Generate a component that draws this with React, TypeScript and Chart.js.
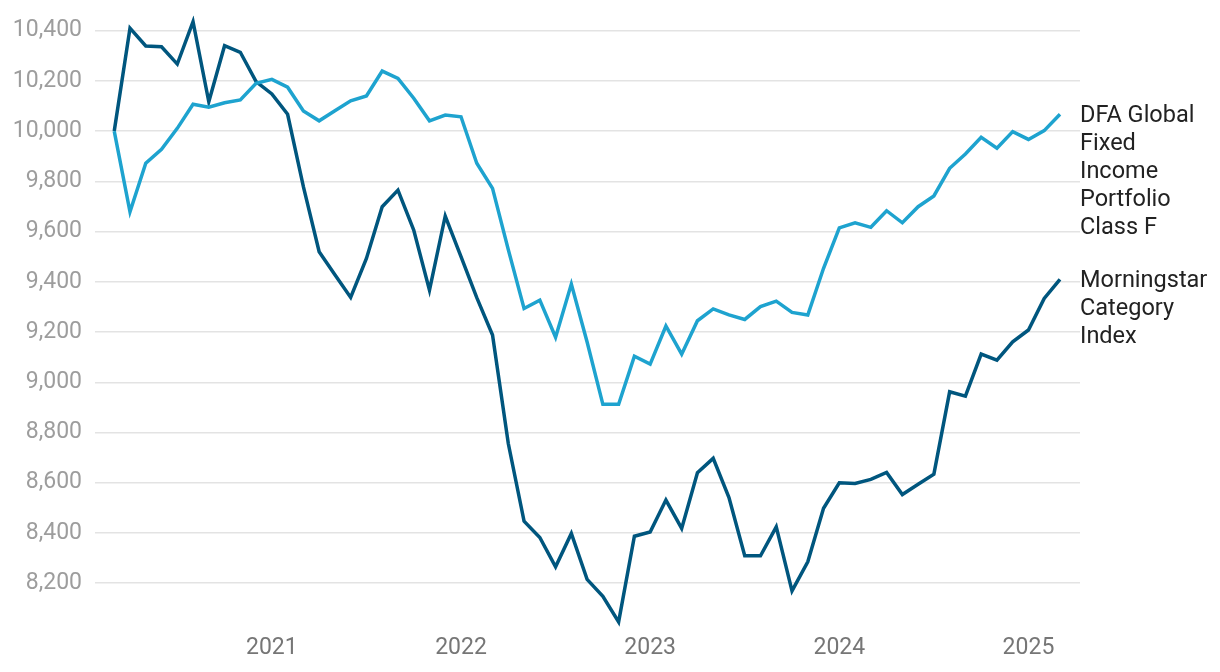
import React, { useEffect, useRef } from 'react';
import { Chart, registerables } from 'chart.js';

Chart.register(...registerables);

const months = [
  '2020-03', '2020-04', '2020-05', '2020-06', '2020-07', '2020-08', '2020-09', '2020-10', '2020-11', '2020-12',
  '2021-01', '2021-02', '2021-03', '2021-04', '2021-05', '2021-06', '2021-07', '2021-08', '2021-09', '2021-10', '2021-11', '2021-12',
  '2022-01', '2022-02', '2022-03', '2022-04', '2022-05', '2022-06', '2022-07', '2022-08', '2022-09', '2022-10', '2022-11', '2022-12',
  '2023-01', '2023-02', '2023-03', '2023-04', '2023-05', '2023-06', '2023-07', '2023-08', '2023-09', '2023-10', '2023-11', '2023-12',
  '2024-01', '2024-02', '2024-03', '2024-04', '2024-05', '2024-06', '2024-07', '2024-08', '2024-09', '2024-10', '2024-11', '2024-12',
  '2025-01', '2025-02', '2025-03',
];

const fundValues = [
  10000, 9679, 9872, 9928, 10011, 10107, 10095, 10113, 10124, 10190,
  10206, 10175, 10080, 10041, 10081, 10121, 10140, 10239, 10210, 10131, 10041, 10064,
  10057, 9872, 9772, 9528, 9294, 9327, 9179, 9391, 9160, 8912, 8912, 9104,
  9072, 9224, 9112, 9245, 9292, 9268, 9250, 9301, 9323, 9278, 9268, 9454,
  9615, 9635, 9617, 9683, 9635, 9699, 9742, 9852, 9909, 9975, 9932, 9998,
  9967, 10002, 10067,
];

const indexValues = [
  10000, 10410, 10339, 10336, 10267, 10436, 10117, 10340, 10314, 10197,
  10148, 10067, 9779, 9520, 9428, 9338, 9493, 9699, 9765, 9606, 9367, 9662,
  9500, 9337, 9188, 8756, 8447, 8382, 8265, 8398, 8215, 8148, 8046, 8387,
  8404, 8531, 8418, 8640, 8697, 8541, 8309, 8309, 8424, 8169, 8285, 8498,
  8600, 8597, 8613, 8641, 8553, 8594, 8634, 8962, 8945, 9112, 9088, 9161,
  9208, 9334, 9410,
];

const yTickValues = [8200, 8400, 8600, 8800, 9000, 9200, 9400, 9600, 9800, 10000, 10200, 10400];

const fundLabelLines = ['DFA Global', 'Fixed', 'Income', 'Portfolio', 'Class F'];
const indexLabelLines = ['Morningstar', 'Category', 'Index'];

const FONT = 'Roboto, "Noto Sans", sans-serif';

const endLabels = {
  id: 'endLabels',
  afterDatasetsDraw(chart: any) {
    const ctx = chart.ctx;
    const area = chart.chartArea;
    ctx.save();
    ctx.font = `23.5px ${FONT}`;
    ctx.fillStyle = '#222222';
    ctx.textAlign = 'left';
    ctx.textBaseline = 'middle';
    chart.data.datasets.forEach((ds: any, di: number) => {
      const meta = chart.getDatasetMeta(di);
      const last = meta.data[meta.data.length - 1];
      if (!last) return;
      const lines: string[] = ds.endLines || [];
      lines.forEach((line, li) => {
        ctx.fillText(line, area.right, last.y + 2 + li * 28);
      });
    });
    ctx.restore();
  },
};

export default function App() {
  const ref = useRef<HTMLCanvasElement>(null);

  useEffect(() => {
    if (!ref.current) return;
    const chart = new Chart(ref.current, {
      type: 'line',
      data: {
        datasets: [
          {
            label: 'DFA Global Fixed Income Portfolio Class F',
            data: fundValues.map((v, i) => ({ x: i, y: v })),
            borderColor: '#1ea3cf',
            borderWidth: 3.5,
            pointRadius: 0,
            tension: 0,
            endLines: fundLabelLines,
          } as any,
          {
            label: 'Morningstar Category Index',
            data: indexValues.map((v, i) => ({ x: i, y: v })),
            borderColor: '#00567e',
            borderWidth: 3.5,
            pointRadius: 0,
            tension: 0,
            endLines: indexLabelLines,
          } as any,
        ],
      },
      options: {
        responsive: false,
        animation: false,
        layout: { padding: { top: 15.6, right: 140, left: 0, bottom: 0 } },
        plugins: {
          legend: { display: false },
          tooltip: { enabled: false },
        },
        scales: {
          x: {
            type: 'linear',
            min: -1.22,
            max: 61.27,
            grid: { display: false, drawTicks: false },
            border: { display: false },
            afterBuildTicks: (scale: any) => {
              scale.ticks = months
                .map((m, i) => ({ value: i, m }))
                .filter((t) => t.m.endsWith('-01'))
                .map((t) => ({ value: t.value }));
            },
            afterFit: (scale: any) => {
              scale.height = 38.6;
              scale.paddingLeft = 0;
              scale.paddingRight = 0;
            },
            ticks: {
              autoSkip: false,
              maxRotation: 0,
              padding: 1,
              color: '#767676',
              font: { family: FONT, size: 23 },
              callback: (v: any) => months[v as number]?.slice(0, 4) ?? '',
            },
          },
          y: {
            type: 'linear',
            min: 8000,
            max: 10460,
            grid: { color: '#e3e3e3', lineWidth: 1.5, drawTicks: false },
            border: { display: false },
            afterBuildTicks: (scale: any) => {
              scale.ticks = yTickValues.map((v) => ({ value: v }));
            },
            afterFit: (scale: any) => {
              scale.width = 95;
              scale.paddingTop = 0;
              scale.paddingBottom = 0;
            },
            ticks: {
              padding: 13,
              color: '#9d9d9d',
              font: { family: FONT, size: 23 },
              callback: (v: any) => Number(v).toLocaleString('en-US'),
            },
          },
        },
      } as any,
      plugins: [endLabels],
    });
    return () => chart.destroy();
  }, []);

  return (
    <div style={{ position: 'absolute', left: 0, top: 0, width: 1220, height: 672, background: '#ffffff' }}>
      <canvas ref={ref} width={1220} height={672} style={{ display: 'block' }} />
    </div>
  );
}
